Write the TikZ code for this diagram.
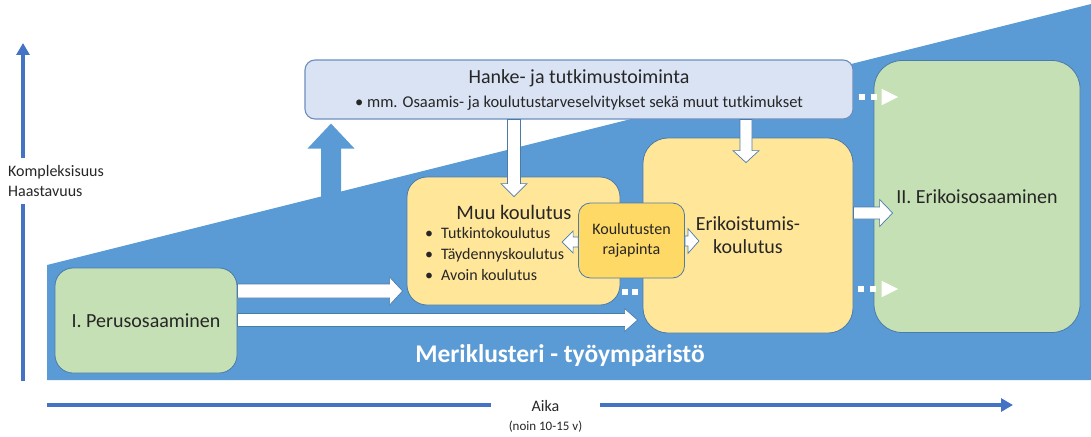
\documentclass[tikz,border=0pt]{standalone}
\usepackage{fontspec}
\setmainfont{Carlito}
\usepackage{xcolor}
\usepackage{tikz}
\usetikzlibrary{calc,arrows.meta}

\definecolor{wall}{HTML}{5B9BD5}
\definecolor{axisblue}{HTML}{4472C4}
\definecolor{edge}{HTML}{4A7BAA}
\definecolor{hankefill}{HTML}{DAE3F3}
\definecolor{hankeline}{HTML}{6C8EBF}
\definecolor{yellowfill}{HTML}{FFE699}
\definecolor{rajapfill}{HTML}{FFD966}
\definecolor{greenfill}{HTML}{C5E0B4}
\definecolor{ink}{HTML}{262626}

\newcommand{\fsize}[2]{\fontsize{#1}{#2}\selectfont}

% block arrow: [style]{from}{to}{half shaft}{half head}{head length}
\newcommand{\blockarrow}[6][]{%
  \draw[barrow,#1] let \p1=($(#3)-(#2)$), \n1={veclen(\x1,\y1)}, \n2={atan2(\y1,\x1)} in
    [shift={(#2)}, rotate=\n2]
    (0pt,-#4pt) -- ({\n1-#6pt},-#4pt) -- ({\n1-#6pt},-#5pt) -- (\n1,0pt)
    -- ({\n1-#6pt},#5pt) -- ({\n1-#6pt},#4pt) -- (0pt,#4pt) -- cycle;}

\tikzset{
  box/.style    = {draw=edge, line width=0.8pt, rounded corners=#1, align=center},
  box/.default  = 15pt,
  yellowbox/.style = {box=#1, fill=yellowfill},
  greenbox/.style  = {box=#1, fill=greenfill},
  barrow/.style = {fill=white, draw=edge, line width=0.7pt},
  wallarrow/.style = {fill=wall, draw=none},
  dotarrow/.style  = {draw=white, line width=6pt, dash pattern=on 6pt off 6pt,
                      -{Triangle[length=17pt,width=15pt]}},
  dots/.style   = {draw=white, line width=6pt, dash pattern=on 6pt off 4pt},
  axis/.style   = {draw=axisblue, line width=3.5pt},
  axistip/.style = {-{Triangle[length=12pt,width=13pt]}}
}

\begin{document}
\begin{tikzpicture}[x=1pt, y=-1pt, every node/.style={text=ink, inner sep=0pt}]
  \useasboundingbox (0,0) rectangle (1091,436);

  % work environment wedge
  \fill[wall] (47,380) -- (47,265) -- (1091,4) -- (1091,380) -- cycle;

  \node[box=10pt, draw=hankeline, line width=1.1pt, fill=hankefill,
        minimum width=548, minimum height=59, font=\fsize{16.5}{24}]
       (hanke) at (579,89.5)
       {{\fsize{20}{24}Hanke- ja tutkimustoiminta}\\
        \makebox[12pt][l]{\textbullet}mm. Osaamis- ja koulutustarveselvitykset sekä muut tutkimukset};

  \node[greenbox=18pt, minimum width=182, minimum height=105, font=\fsize{20}{24}]
       (perus) at (146,320.5) {I. Perusosaaminen};
  \node[yellowbox=20pt, minimum width=213, minimum height=128] (muu) at (513.5,241) {};
  \node[yellowbox=25pt, minimum width=210, minimum height=195, font=\fsize{20}{23}]
       (erik) at (748,235.5) {Erikoistumis-\\koulutus};
  \node[greenbox=28pt, minimum width=206, minimum height=272, font=\fsize{20}{24}]
       (spec) at (977,196.5) {II. Erikoisosaaminen};
  \node[box=12pt, fill=rajapfill, minimum width=106, minimum height=75, font=\fsize{16}{20}]
       (rajap) at (631.5,240.5) {Koulutusten\\rajapinta};

  \node[font=\fsize{20.5}{24}] (muutitle) at (514,212) {Muu koulutus};
  \node[anchor=west, align=left, font=\fsize{16}{20.5}] (muulist) at (425,254)
       {\makebox[16pt][l]{\textbullet}Tutkintokoulutus\\
        \makebox[16pt][l]{\textbullet}Täydennyskoulutus\\
        \makebox[16pt][l]{\textbullet}Avoin koulutus};

  % arrow ends
  \coordinate (upfoot) at (331,215);
  \coordinate (a1s) at (perus.east |- 0,291);
  \coordinate (a1e) at ($(muu.west |- 0,291)+(-4,0)$);
  \coordinate (a2s) at (perus.east |- 0,320);
  \coordinate (a2e) at ($(erik.west |- 0,320)+(-5,0)$);
  \coordinate (a3s) at (hanke.south -| 514,0);
  \coordinate (a3e) at ($(muu.north -| 514,0)+(0,20)$);
  \coordinate (a4s) at (hanke.south -| 746,0);
  \coordinate (a4e) at ($(erik.north -| 746,0)+(0,25)$);
  \coordinate (a5s) at (rajap.west |- 0,242);
  \coordinate (a5e) at ($(a5s)+(-16,0)$);
  \coordinate (a6s) at (rajap.east |- 0,241);
  \coordinate (a6e) at ($(a6s)+(14,0)$);
  \coordinate (a7s) at (erik.east |- 0,213);
  \coordinate (a7e) at ($(spec.west |- 0,213)+(19,0)$);

  \blockarrow[wallarrow]{upfoot}{$(hanke.south -| upfoot)+(0,4)$}{10}{23.5}{25}
  \blockarrow{a1s}{a1e}{7}{14}{13}
  \blockarrow{a2s}{a2e}{6.5}{11.5}{13}
  \blockarrow{a3s}{a3e}{6.5}{13}{13}
  \blockarrow{a4s}{a4e}{6}{13}{12}
  \blockarrow{a5s}{a5e}{5}{11}{11}
  \blockarrow{a6s}{a6e}{5}{12.5}{11}
  \blockarrow{a7s}{a7e}{6}{13.5}{13}

  \draw[dotarrow] ($(hanke.east |- 0,97)+(5,0)$) -- ($(spec.west |- 0,97)+(25,0)$);
  \draw[dotarrow] ($(erik.east |- 0,289)+(5,0)$) -- ($(spec.west |- 0,289)+(25,0)$);
  \draw[dots] ($(muu.east |- 0,292)+(2,0)$) -- ($(erik.west |- 0,292)+(-4,0)$);

  \node[text=white, font=\fsize{25.5}{28}\bfseries] (merik) at (560,356)
       {Meriklusteri - työympäristö};

  % axes
  \coordinate (yo) at (23,381);
  \coordinate (ytop) at (23,43);
  \node[anchor=west, align=left, inner ysep=7pt, font=\fsize{16}{20}]
       (ylab) at (8,181) {Kompleksisuus\\Haastavuus};
  \draw[axis] (yo) -- (ylab.south -| yo);
  \draw[axis, axistip] (ylab.north -| yo) -- (ytop);

  \coordinate (xo) at (47,405);
  \coordinate (xend) at (1013,405);
  \node[align=center, minimum width=109, font=\fsize{16}{19}]
       (aika) at (545.5,416) {Aika\\{\fsize{13}{15}(noin 10-15 v)}};
  \draw[axis] (xo) -- (aika.west |- xo);
  \draw[axis, axistip] (aika.east |- xo) -- (xend);
\end{tikzpicture}
\end{document}
